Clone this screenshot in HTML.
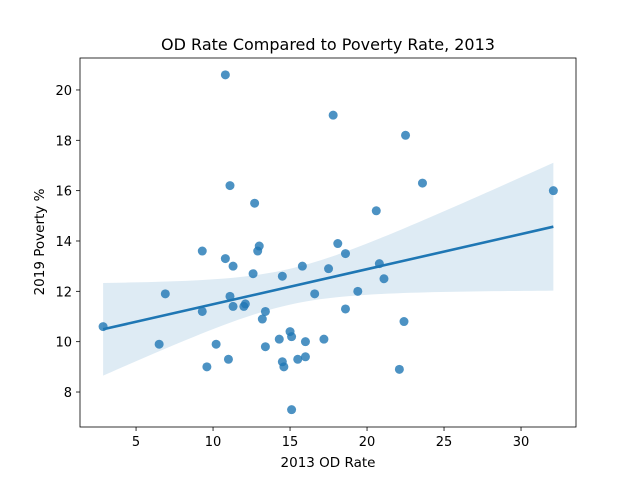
<!DOCTYPE html>
<html><head><meta charset="utf-8"><style>
body{margin:0;background:#fff}
svg{font-family:"DejaVu Sans","Liberation Sans",sans-serif}
</style></head><body>
<svg id="chart" width="640" height="480" viewBox="0 0 640 480">
<rect width="640" height="480" fill="#fff"/>
<text x="328" y="50" text-anchor="middle" font-size="16">OD Rate Compared to Poverty Rate, 2013</text>
<g id="band"></g><g id="pts"></g><g id="line"></g>
<rect x="80" y="58" width="496" height="369" fill="none" stroke="#000" stroke-width="0.8"/>
<g id="xt"></g><g id="yt"></g>
<text x="328" y="467" text-anchor="middle" font-size="13.5">2013 OD Rate</text>
<text transform="translate(44,242) rotate(-90)" text-anchor="middle" font-size="13.5">2019 Poverty %</text>
</svg>
<script>
const xVals=[2.86,6.5,6.9,9.3,9.3,9.6,10.2,10.8,10.8,11.0,11.1,11.1,11.3,11.3,12.0,12.1,12.6,12.7,12.9,13.0,13.2,13.4,13.4,14.3,14.5,14.5,14.6,15.0,15.1,15.1,15.5,15.8,16.0,16.0,16.6,17.2,17.5,17.8,18.1,18.6,18.6,19.4,20.6,20.8,21.1,22.1,22.4,22.5,23.6,32.1];
const yVals=[10.6,9.9,11.9,13.6,11.2,9.0,9.9,20.6,13.3,9.3,16.2,11.8,13.0,11.4,11.4,11.5,12.7,15.5,13.6,13.8,10.9,11.2,9.8,10.1,12.6,9.2,9.0,10.4,10.2,7.3,9.3,13.0,10.0,9.4,11.9,10.1,12.9,19.0,13.9,13.5,11.3,12.0,15.2,13.1,12.5,8.9,10.8,18.2,16.3,16.0];
const xTicks=[5,10,15,20,25,30];
const yTicks=[8,10,12,14,16,18,20];
const X0=1.36,X1=33.57,Y0=6.61,Y1=21.27;
const sx=v=>80+(v-X0)/(X1-X0)*496;
const sy=v=>427-(v-Y0)/(Y1-Y0)*369;
const NS="http://www.w3.org/2000/svg";
function mk(t,a,p){const e=document.createElementNS(NS,t);for(const k in a)e.setAttribute(k,a[k]);document.getElementById(p).appendChild(e);return e;}
const n=xVals.length;
const mx=xVals.reduce((a,b)=>a+b)/n,my=yVals.reduce((a,b)=>a+b)/n;
let sxx=0,sxy=0;for(let i=0;i<n;i++){sxx+=(xVals[i]-mx)**2;sxy+=(xVals[i]-mx)*(yVals[i]-my);}
const b=sxy/sxx,a=my-b*mx;
let sse=0;for(let i=0;i<n;i++)sse+=(yVals[i]-a-b*xVals[i])**2;
const s=Math.sqrt(sse/(n-2));
const xmin=Math.min(...xVals),xmax=Math.max(...xVals);
const up=[],lo=[];
for(let k=0;k<=60;k++){const x=xmin+(xmax-xmin)*k/60;const f=a+b*x;const se=1.87*s*Math.sqrt(1/n+(x-mx)**2/sxx);up.push(sx(x)+","+sy(f+se));lo.unshift(sx(x)+","+sy(f-se));}
let e=mk("polygon",{points:up.concat(lo).join(" "),fill:"#1f77b4","fill-opacity":0.15},"band");


for(let i=0;i<n;i++){e=mk("circle",{cx:sx(xVals[i]),cy:sy(yVals[i]),r:4.5,fill:"#1f77b4","fill-opacity":0.8},"pts");

}
e=mk("line",{x1:sx(xmin),y1:sy(a+b*xmin),x2:sx(xmax),y2:sy(a+b*xmax),stroke:"#1f77b4","stroke-width":2.6},"line");


xTicks.forEach(t=>{const x=sx(t);mk("line",{x1:x,x2:x,y1:427,y2:431,stroke:"#000","stroke-width":0.8},"xt");
e=mk("text",{x:x,y:446,"text-anchor":"middle","font-size":13},"xt");e.textContent=t;

});
yTicks.forEach(t=>{const y=sy(t);mk("line",{x1:76,x2:80,y1:y,y2:y,stroke:"#000","stroke-width":0.8},"yt");
e=mk("text",{x:72,y:y+5,"text-anchor":"end","font-size":13},"yt");e.textContent=t;

});
</script>
</body></html>
